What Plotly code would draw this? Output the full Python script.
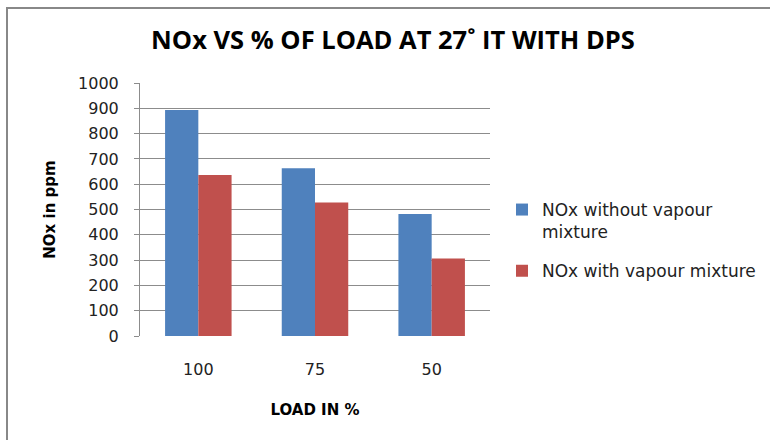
import plotly.graph_objects as go

# Engine load categories and NOx emission readings (ppm)
load_pct = ["100", "75", "50"]
nox_without_vapour = [893, 663, 482]
nox_with_vapour = [636, 528, 306]

series_names = ["NOx without vapour<br>mixture", "NOx with vapour mixture"]
series_colors = ["#4F81BD", "#C0504D"]

W, H = 770, 440
L, R, T, B = 140, 280, 83, 104

fig = go.Figure()
for i, (name, vals, col) in enumerate(zip(series_names, [nox_without_vapour, nox_with_vapour], series_colors)):
    fig.add_trace(go.Bar(x=load_pct, y=vals, name=name, legendgroup=f"g{i}",
                         marker=dict(color=col, line=dict(width=0))))

tick_font = dict(family="DejaVu Sans", size=16, color="#222222")
plot_w = W - L - R
plot_h = H - T - B

fig.update_layout(
    width=W, height=H,
    margin=dict(l=L, r=R, t=T, b=B, pad=0, autoexpand=False),
    paper_bgcolor="white", plot_bgcolor="white",
    barmode="group", bargap=0.43, bargroupgap=0,
    title=dict(text="NOx VS % OF LOAD AT 27˚ IT WITH DPS",
               font=dict(family="Open Sans", size=25.5, color="black", weight="bold"),
               x=393 / W, xanchor="center", y=1 - 40 / H, yanchor="middle"),
    xaxis=dict(type="category", showline=False, showgrid=False, ticks="",
               tickfont=tick_font, ticklabelstandoff=22, automargin=False,
               title=dict(text="LOAD IN %", font=dict(family="DejaVu Sans", size=15, color="black", weight="bold"),
                          standoff=26)),
    yaxis=dict(range=[0, 1000], dtick=100, showgrid=True, gridcolor="#8C8C8C", gridwidth=1,
               showline=True, linecolor="#8C8C8C", linewidth=1,
               ticks="outside", ticklen=5, tickcolor="#8C8C8C",
               tickfont=tick_font, ticklabelstandoff=12, automargin=False,
               zeroline=False,
               title=dict(text="NOx in ppm", font=dict(family="DejaVu Sans", size=15, color="black", weight="bold"),
                          standoff=18)),
    legend=dict(x=(502 - L) / plot_w, xanchor="left",
                y=(H - B - 192) / plot_h, yanchor="top",
                valign="top", font=dict(family="DejaVu Sans", size=17, color="#222222"),
                tracegroupgap=14, bgcolor="rgba(0,0,0,0)"),
    showlegend=True,
)

# Chart frame
fig.add_shape(type="rect", xref="paper", yref="paper",
              x0=(7 - L) / plot_w, x1=(W + 20 - L) / plot_w,
              y0=(H - B - (H + 20)) / plot_h, y1=(H - B - 8) / plot_h,
              line=dict(color="#888888", width=2), fillcolor="rgba(0,0,0,0)", layer="below")

fig.write_html("out.html")
